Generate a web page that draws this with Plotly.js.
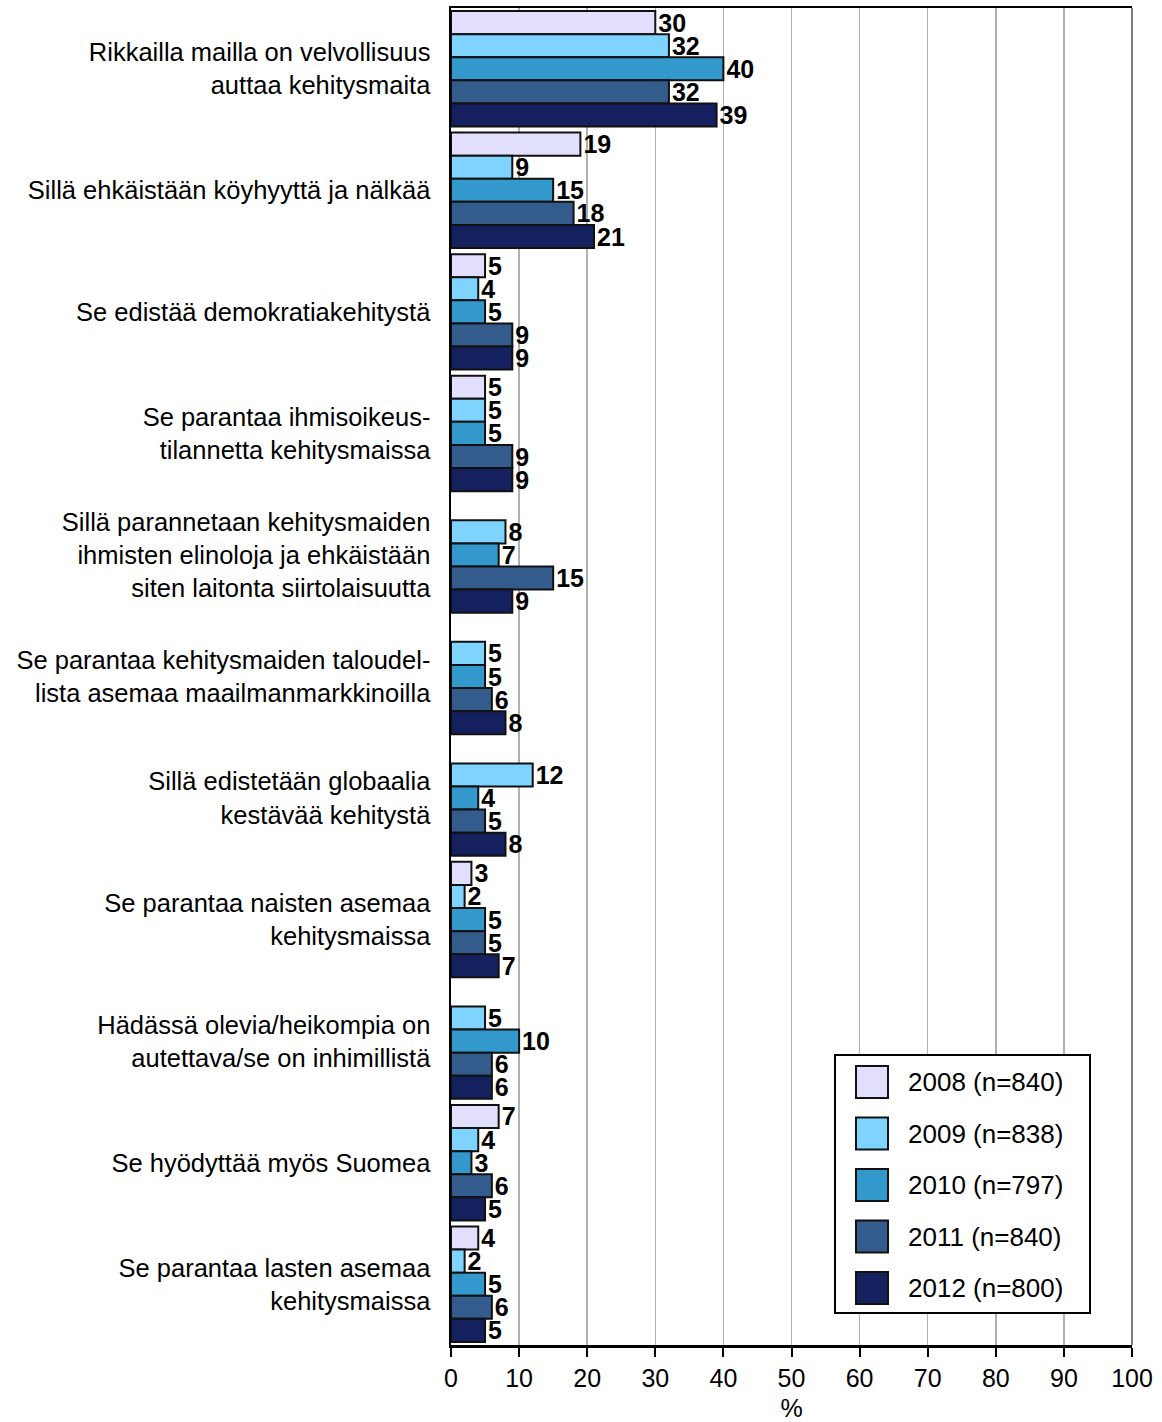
<!DOCTYPE html>
<html>
<head>
<meta charset="utf-8">
<script src="https://cdn.plot.ly/plotly-3.0.1.min.js"></script>
<style>
  html, body { margin: 0; padding: 0; background: #fff; }
  #chart { width: 1162px; height: 1422px; }
</style>
</head>
<body>
<div id="chart"></div>
<script>
// ---- DATA ----
const categories = [
  "Rikkailla mailla on velvollisuus<br>auttaa kehitysmaita",
  "Sillä ehkäistään köyhyyttä ja nälkää",
  "Se edistää demokratiakehitystä",
  "Se parantaa ihmisoikeus-<br>tilannetta kehitysmaissa",
  "Sillä parannetaan kehitysmaiden<br>ihmisten elinoloja ja ehkäistään<br>siten laitonta siirtolaisuutta",
  "Se parantaa kehitysmaiden taloudel-<br>lista asemaa maailmanmarkkinoilla",
  "Sillä edistetään globaalia<br>kestävää kehitystä",
  "Se parantaa naisten asemaa<br>kehitysmaissa",
  "Hädässä olevia/heikompia on<br>autettava/se on inhimillistä",
  "Se hyödyttää myös Suomea",
  "Se parantaa lasten asemaa<br>kehitysmaissa"
];
const seriesNames = ["2008 (n=840)", "2009 (n=838)", "2010 (n=797)", "2011 (n=840)", "2012 (n=800)"];
const values2008 = [30, 19, 5, 5, null, null, null, 3, null, 7, 4];
const values2009 = [32, 9, 4, 5, 8, 5, 12, 2, 5, 4, 2];
const values2010 = [40, 15, 5, 5, 7, 5, 4, 5, 10, 3, 5];
const values2011 = [32, 18, 9, 9, 15, 6, 5, 5, 6, 6, 6];
const values2012 = [39, 21, 9, 9, 9, 8, 8, 7, 6, 5, 5];
const seriesColors = ["#E1DFFC", "#7FD4FF", "#3399CC", "#335B8C", "#15215F"];
const xTickVals = [0, 10, 20, 30, 40, 50, 60, 70, 80, 90, 100];

const allValues = [values2008, values2009, values2010, values2011, values2012];

// ---- LAYOUT GEOMETRY ----
const W = 1162, H = 1422;
const M = { l: 451, r: 30, t: 8, b: 77 };
const plotW = W - M.l - M.r, plotH = H - M.t - M.b;
const px2x = p => (p - M.l) / plotW;
const px2y = p => (H - M.b - p) / plotH;

const FONT = "Arial, 'Liberation Sans', sans-serif";

const traces = allValues.map((vals, i) => ({
  type: "bar",
  orientation: "h",
  name: seriesNames[i],
  y: categories,
  x: vals,
  marker: { color: seriesColors[i], line: { color: "#111111", width: 2 } },
  text: vals.map(v => v === null ? "" : String(v)),
  textposition: "outside",
  constraintext: "none",
  cliponaxis: false,
  textfont: { family: FONT, size: 25, color: "#000", weight: "bold" },
  hoverinfo: "x+name",
  showlegend: false
}));

// manual legend (large square swatches)
const shapes = [];
const annotations = [];
const legL = 835, legR = 1090, legT = 1055, legB = 1313;
shapes.push({
  type: "rect", xref: "paper", yref: "paper",
  x0: px2x(legL), x1: px2x(legR), y0: px2y(legB), y1: px2y(legT),
  line: { color: "#000", width: 2 }, fillcolor: "#fff", layer: "above"
});
seriesNames.forEach((n, i) => {
  const cy = 1082 + i * 51.5;
  shapes.push({
    type: "rect", xref: "paper", yref: "paper",
    x0: px2x(856), x1: px2x(888), y0: px2y(cy + 16), y1: px2y(cy - 16),
    line: { color: "#111", width: 2 }, fillcolor: seriesColors[i], layer: "above"
  });
  annotations.push({
    xref: "paper", yref: "paper", x: px2x(906), y: px2y(cy),
    xanchor: "left", yanchor: "middle", showarrow: false,
    text: n, font: { family: FONT, size: 26, color: "#000" }
  });
});
// right border (gray)
shapes.push({
  type: "line", xref: "paper", yref: "paper", x0: 1, x1: 1, y0: 0, y1: 1,
  line: { color: "#808080", width: 2 }
});

const layout = {
  width: W, height: H,
  margin: M,
  paper_bgcolor: "#fff", plot_bgcolor: "#fff",
  font: { family: FONT, color: "#000" },
  barmode: "group",
  bargap: 0.05,
  bargroupgap: 0,
  showlegend: false,
  xaxis: {
    range: [0, 100],
    tickvals: xTickVals,
    ticktext: xTickVals.map(String),
    ticks: "outside", ticklen: 9, tickwidth: 2, tickcolor: "#000",
    tickfont: { family: FONT, size: 25, color: "#000" },
    showgrid: true, gridcolor: "#B0B0B0", gridwidth: 1.5,
    zeroline: false,
    showline: true, linecolor: "#000", linewidth: 2.5, mirror: true,
    title: { text: "%", font: { family: FONT, size: 25, color: "#000" }, standoff: 18 },
    fixedrange: true
  },
  yaxis: {
    type: "category",
    autorange: "reversed",
    showgrid: false, zeroline: false,
    showline: true, linecolor: "#000", linewidth: 2.5,
    ticks: "",
    ticklabelstandoff: 13,
    tickfont: { family: FONT, size: 25.5, color: "#000" },
    fixedrange: true
  },
  shapes: shapes,
  annotations: annotations
};

Plotly.newPlot("chart", traces, layout, { displayModeBar: false, staticPlot: true });
</script>
</body>
</html>
